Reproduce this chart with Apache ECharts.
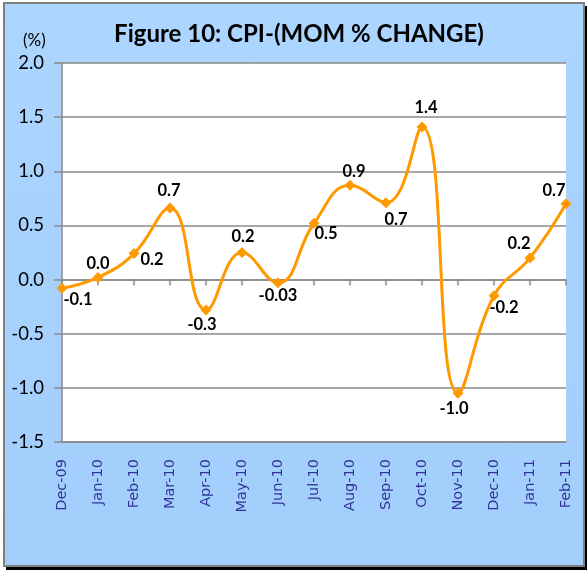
<!DOCTYPE html>
<html><head><meta charset="utf-8">
<script src="https://cdn.jsdelivr.net/npm/echarts@6/dist/echarts.min.js"></script>
<style>
html,body{margin:0;padding:0;background:#fff;}
#frame{position:absolute;left:3px;top:2px;width:578px;height:561px;border:2px solid #7f7f7f;box-shadow:3px 4px 0 #000;background:linear-gradient(#acd5ff,#a2cefc);}
#chart{position:absolute;left:0;top:0;width:587px;height:570px;}
</style></head>
<body>
<div id="frame"></div>
<div id="chart"></div>
<script>
const categories = ['Dec-09','Jan-10','Feb-10','Mar-10','Apr-10','May-10','Jun-10','Jul-10','Aug-10','Sep-10','Oct-10','Nov-10','Dec-10','Jan-11','Feb-11'];
const cpiValues = [-0.08, 0.02, 0.24, 0.66, -0.28, 0.25, -0.03, 0.52, 0.87, 0.71, 1.41, -1.05, -0.15, 0.20, 0.70];
const valueLabels = ['-0.1','0.0','0.2','0.7','-0.3','0.2','-0.03','0.5','0.9','0.7','1.4','-1.0','-0.2','0.2','0.7'];
const labelOffsets = [[16,11],[0,-14],[18,6],[-1,-17],[-4,15],[1,-16],[0,13],[12,10],[4,-14],[10,17],[4,-19],[-4,15],[10,12],[-11,-14],[-12,-13]];
const yTicks = {min:-1.5, max:2.0, interval:0.5};

const chart = echarts.init(document.getElementById('chart'), null, {renderer:'canvas'});
const data = cpiValues.map((v,i)=>({
  value: v,
  label: {formatter: valueLabels[i], offset: labelOffsets[i]}
}));
chart.setOption({
  backgroundColor: 'transparent',
  animation: false,
  title: [{
    text: 'Figure 10: CPI-(MOM % CHANGE)',
    left: 294, top: 17, textAlign: 'center',
    textStyle: {fontFamily: 'Lato', fontWeight: 'bold', fontSize: 24, color: '#000'}
  },{
    text: '(%)', left: 18, top: 27,
    textStyle: {fontFamily: 'Lato', fontWeight: 'normal', fontSize: 17, color: '#000'}
  }],
  grid: {left: 62, right: 21, top: 63, bottom: 128, show: true, backgroundColor: '#fff', borderWidth: 0},
  xAxis: [{
    type: 'category', data: categories, boundaryGap: false, position: 'bottom',
    axisLine: {onZero: false, lineStyle: {color: '#8a8a8a', width: 1.5}},
    axisTick: {show: false},
    axisLabel: {rotate: 90, margin: 17, color: '#333399', fontFamily: 'DejaVu Sans', fontSize: 14.5, interval: 0},
    splitLine: {show: false}
  },{
    type: 'category', data: categories, boundaryGap: false, position: 'bottom',
    axisLine: {onZero: true, onZeroAxisIndex: 0, lineStyle: {color: '#8a8a8a', width: 1.5}},
    axisTick: {show: true, inside: false, length: 6, interval: 0, lineStyle: {color: '#8a8a8a', width: 1.5}},
    axisLabel: {show: false},
    splitLine: {show: false}
  }],
  yAxis: {
    type: 'value', min: yTicks.min, max: yTicks.max, interval: yTicks.interval,
    axisLine: {show: true, lineStyle: {color: '#8a8a8a', width: 1.5}},
    axisTick: {show: true, length: 8, lineStyle: {color: '#8a8a8a', width: 1.5}},
    axisLabel: {margin: 18, color: '#000', fontFamily: 'Lato', fontSize: 18.5, formatter: v => v.toFixed(1)},
    splitLine: {show: true, lineStyle: {color: '#8a8a8a', width: 1.5}}
  },
  series: [{
    type: 'line', xAxisIndex: 0, data: data, smooth: 0.45,
    symbol: 'diamond', symbolSize: 11,
    lineStyle: {color: '#ff9900', width: 3},
    itemStyle: {color: '#ff9900'},
    label: {show: true, position: 'inside', fontFamily: 'Lato', fontWeight: 'bold', fontSize: 16.5, color: '#000'},
    z: 5
  }]
});
</script>
</body></html>
